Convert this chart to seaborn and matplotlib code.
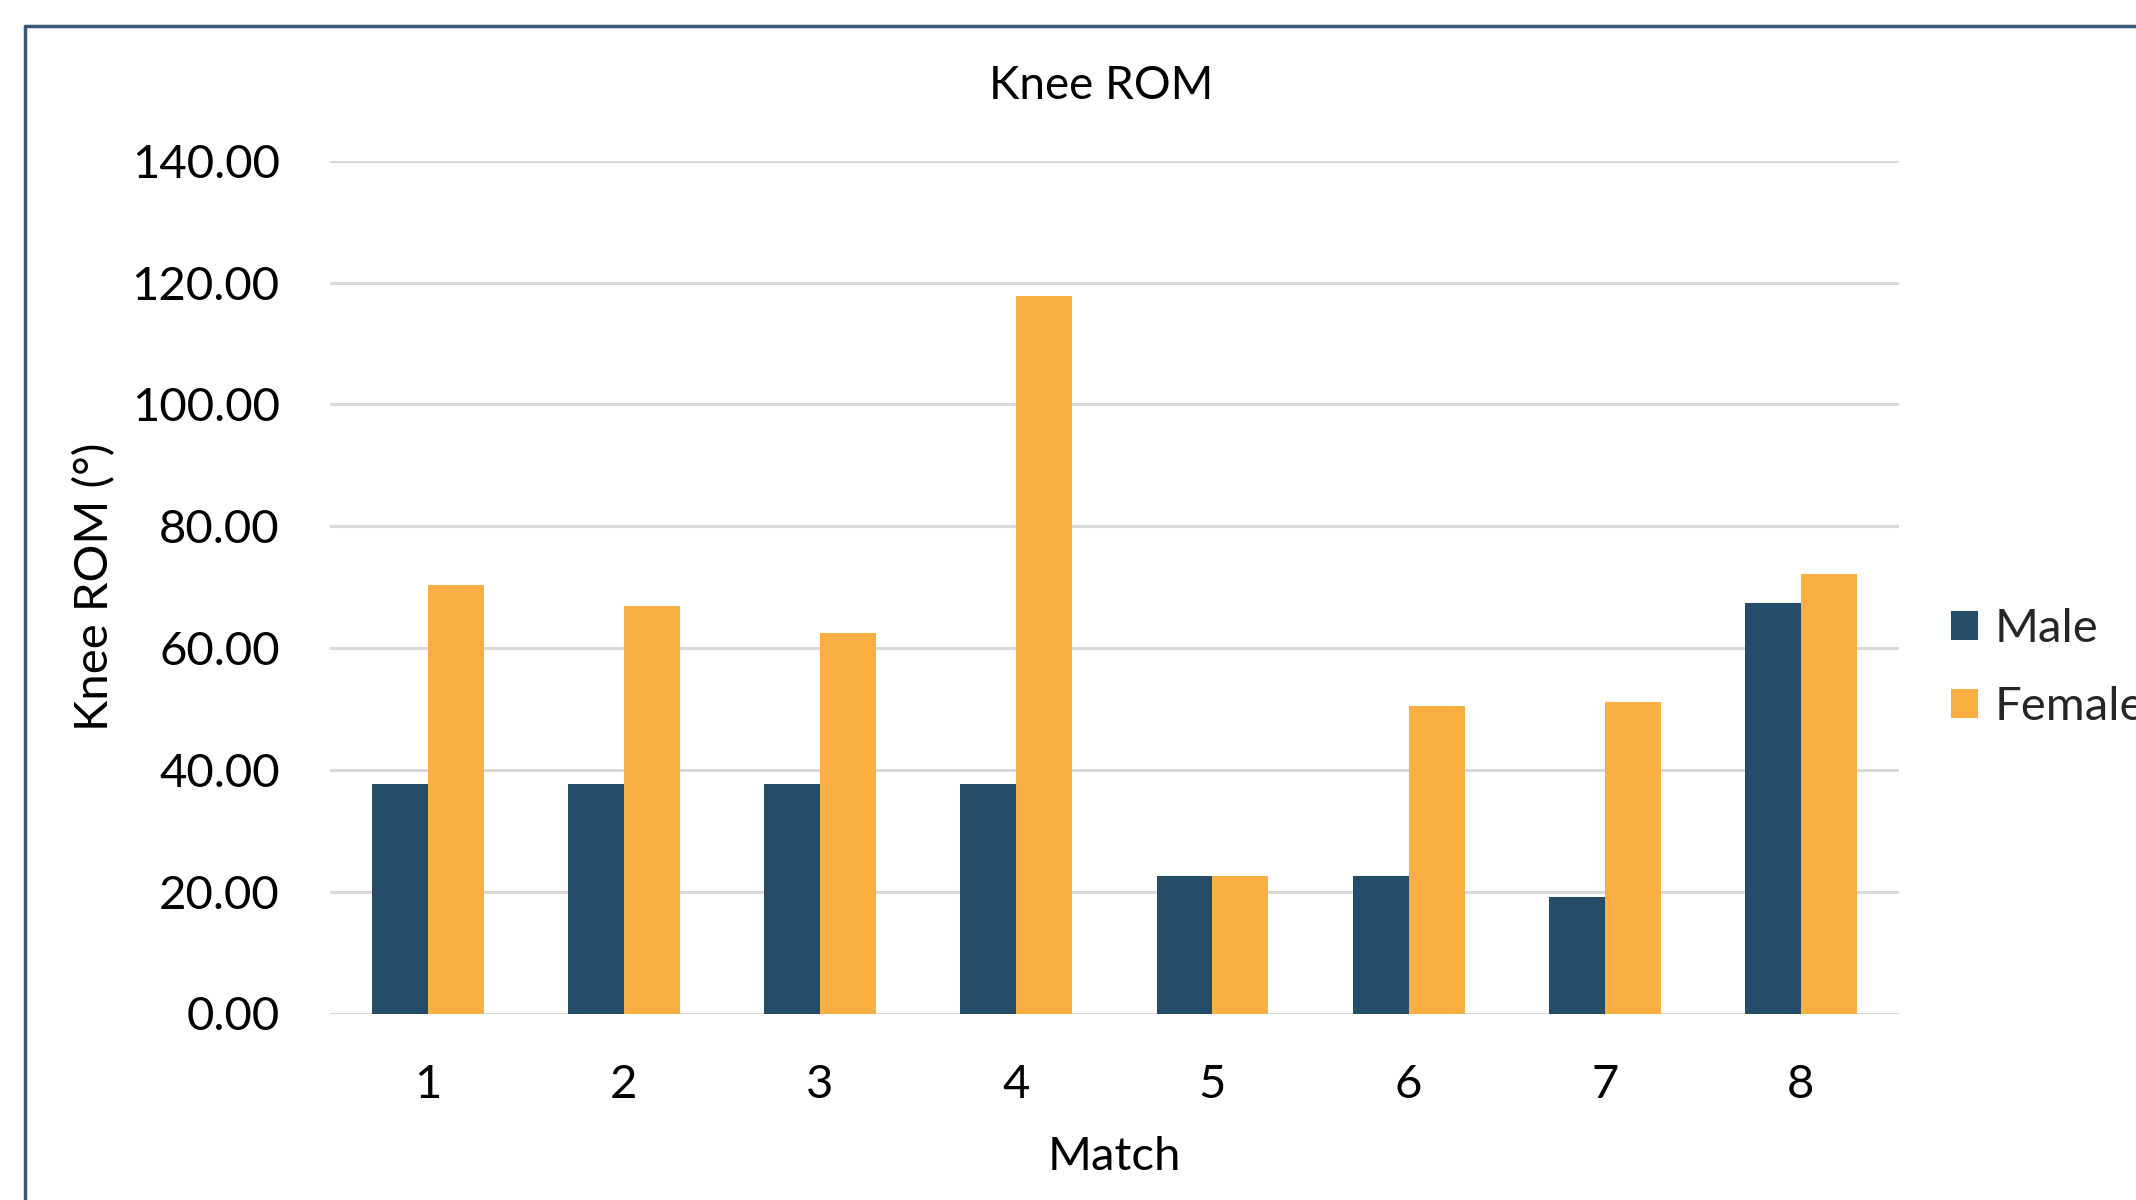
import matplotlib
matplotlib.use("Agg")
import matplotlib.pyplot as plt
from matplotlib.lines import Line2D
import seaborn as sns
import pandas as pd

# Knee range of motion per match, by sex
matches = ["1", "2", "3", "4", "5", "6", "7", "8"]
male_rom = [37.7, 37.7, 37.7, 37.7, 22.5, 22.5, 19.2, 67.4]
female_rom = [70.4, 66.9, 62.5, 117.8, 22.5, 50.4, 51.1, 72.1]
groups = ["Male", "Female"]
y_ticks = [0, 20, 40, 60, 80, 100, 120, 140]

palette = {"Male": "#254D69", "Female": "#FAAF43"}

df = pd.DataFrame({
    "Match": matches * 2,
    "ROM": male_rom + female_rom,
    "Sex": ["Male"] * len(matches) + ["Female"] * len(matches),
})

sns.set_theme(style="white")
plt.rcParams["font.family"] = ["Lato", "DejaVu Sans"]

W, H = 2136, 1200
fig = plt.figure(figsize=(W / 100, H / 100), dpi=100)
fig.patch.set_facecolor("white")

left, right = 329.7, 1899.0
top, bottom = 160.7, 1013.5
ax = fig.add_axes([left / W, 1 - bottom / H, (right - left) / W, (bottom - top) / H])

sns.barplot(data=df, x="Match", y="ROM", hue="Sex", hue_order=groups,
            palette=palette, width=0.57, saturation=1, edgecolor="none",
            linewidth=0, ax=ax, zorder=3)

ax.set_ylim(0, 140)
ax.set_xlim(-0.5, len(matches) - 0.5)
ax.set_yticks(y_ticks)
ax.set_yticklabels([f"{v:.2f}" for v in y_ticks])
ax.yaxis.grid(True, color="#D9D9D9", linewidth=2.2, zorder=0)
ax.xaxis.grid(False)
ax.set_axisbelow(True)
for s in ax.spines.values():
    s.set_visible(False)
ax.tick_params(axis="both", length=0, labelsize=34, colors="black")
ax.tick_params(axis="y", pad=36)
ax.tick_params(axis="x", pad=36)

ax.set_xlabel("Match", fontsize=34, color="black", labelpad=22)
ax.set_ylabel("Knee ROM (°)", fontsize=34, color="black", labelpad=11)

fig.text(1101 / W, 1 - 86 / H, "Knee ROM", fontsize=33, color="black",
         ha="center", va="center")

sns.move_legend(ax, loc="center left", bbox_to_anchor=(1951 / W, 1 - 668 / H),
                bbox_transform=fig.transFigure, frameon=False, title=None,
                fontsize=34, handlelength=0.57, handleheight=0.57,
                handletextpad=0.36, labelspacing=0.77, borderpad=0,
                borderaxespad=0)

# Chart frame (top and left edges)
frame_color = "#3A5A78"
fig.add_artist(Line2D([25 / W, 1.0], [1 - 26 / H, 1 - 26 / H],
                      transform=fig.transFigure, color=frame_color, linewidth=2.5))
fig.add_artist(Line2D([25 / W, 25 / W], [0.0, 1 - 26 / H],
                      transform=fig.transFigure, color=frame_color, linewidth=2.5))

fig.savefig("out.png", dpi=100, facecolor="white")
